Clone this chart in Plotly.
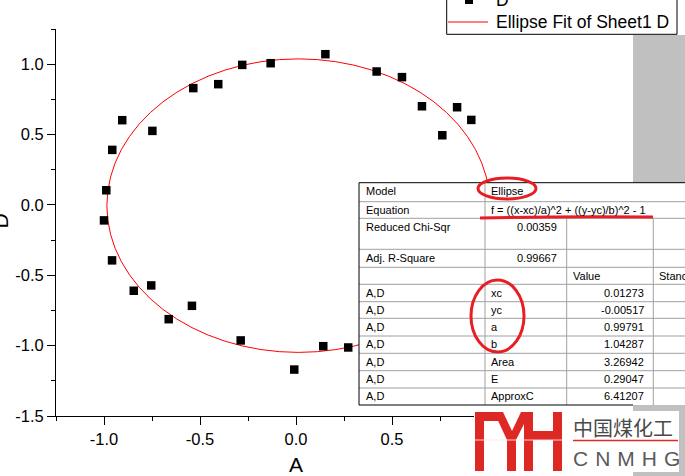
import plotly.graph_objects as go

# ---------------- data ----------------
x_vals = [0.153, -0.280, -0.132, -0.535, -0.405, 0.420, 0.552, 0.656, 0.839, 0.913,
          0.762, -0.905, -0.748, -0.957, -0.988, -1.000, -0.958, -0.754, -0.845, -0.542,
          -0.663, -0.288, 0.142, 0.272, -0.009]
y_vals = [1.071, 0.995, 1.007, 0.830, 0.858, 0.948, 0.908, 0.701, 0.694, 0.604,
          0.495, 0.602, 0.526, 0.391, 0.104, -0.110, -0.394, -0.572, -0.610, -0.717,
          -0.812, -0.963, -1.004, -1.013, -1.170]

# ellipse fit parameters (from the results table)
fit_xc = 0.01273
fit_yc = -0.00517
fit_a = 0.99791
fit_b = 1.04287

x_tickvals = [-1.0, -0.5, 0.0, 0.5, 1.0, 1.5]
x_ticktext = ["-1.0", "-0.5", "0.0", "0.5", "1.0", "1.5"]
y_tickvals = [-1.5, -1.0, -0.5, 0.0, 0.5, 1.0]
y_ticktext = ["-1.5", "-1.0", "-0.5", "0.0", "0.5", "1.0"]

table_col1 = ["Model", "Equation", "Reduced Chi-Sqr", "Adj. R-Square", "",
              "A,D", "A,D", "A,D", "A,D", "A,D", "A,D", "A,D"]
table_model = "Ellipse"
table_equation = "f = ((x-xc)/a)^2 + ((y-yc)/b)^2 - 1"
stat_values = ["0.00359", "0.99667"]
param_names = ["xc", "yc", "a", "b", "Area", "E", "ApproxC"]
param_values = ["0.01273", "-0.00517", "0.99791", "1.04287", "3.26942", "0.29047", "6.41207"]
header_value = "Value"
header_stderr = "Standard Error"

legend_names = ["D", "Ellipse Fit of Sheet1 D"]

# ---------------- layout helpers ----------------
W, H = 685, 476
ML, MR, MT, MB = 56, 53, 29, 60
PW, PH = W - ML - MR, H - MT - MB


def X(px):
    return (px - ML) / PW


def Y(py):
    return (H - MB - py) / PH


FONT = "Liberation Sans, Arial, sans-serif"
RED = "rgb(232,30,36)"

fig = go.Figure()
fig.add_trace(go.Scatter(
    x=x_vals, y=y_vals, mode="markers", name=legend_names[0],
    marker=dict(symbol="square", size=8.5, color="black", line=dict(width=0)),
    showlegend=False, cliponaxis=True, hoverinfo="skip"))

shapes = []
annotations = []

# fit ellipse drawn through the axes from the fitted parameters
shapes.append(dict(type="circle", xref="x", yref="y", layer="below",
                   x0=fit_xc - fit_a, x1=fit_xc + fit_a,
                   y0=fit_yc - fit_b, y1=fit_yc + fit_b,
                   line=dict(color="red", width=1)))

# gray page margin band at right
shapes.append(dict(type="rect", xref="paper", yref="paper", layer="above",
                   x0=X(633), x1=X(700), y0=Y(35), y1=Y(490),
                   fillcolor="#c0c0c0", line=dict(width=0)))


def hline(x0, x1, y, color, w=1):
    shapes.append(dict(type="line", xref="paper", yref="paper", layer="above",
                       x0=X(x0), x1=X(x1), y0=Y(y), y1=Y(y),
                       line=dict(color=color, width=w)))


def vline(x, y0, y1, color, w=1):
    shapes.append(dict(type="line", xref="paper", yref="paper", layer="above",
                       x0=X(x), x1=X(x), y0=Y(y0), y1=Y(y1),
                       line=dict(color=color, width=w)))


def rect(x0, y0, x1, y1, fill, lc=None, lw=0):
    shapes.append(dict(type="rect", xref="paper", yref="paper", layer="above",
                       x0=X(x0), x1=X(x1), y0=Y(y0), y1=Y(y1),
                       fillcolor=fill, line=dict(color=lc or fill, width=lw)))


def text(px, py, s, size=11, anchor="left", color="black", family=FONT, angle=0):
    annotations.append(dict(xref="paper", yref="paper", x=X(px), y=Y(py), text=s,
                            showarrow=False, xanchor=anchor, yanchor="middle",
                            textangle=angle, borderpad=0,
                            font=dict(family=family, size=size, color=color)))


# ---------------- results table ----------------
T_L, T_R = 359, 700
rows = [182.7, 201.7, 218.3, 249.3, 267.3, 284.3, 301.7, 318.3, 336, 353.3, 370.7, 388, 405]
C2, C3, C4 = 485, 566.7, 653.3
GRAY = "#a0a0a0"
rect(T_L, rows[0], T_R, rows[-1], "white")
for r in rows[1:-1]:
    hline(T_L, T_R, r, GRAY)
vline(C2, rows[0], rows[-1], GRAY)
vline(C3, rows[2], rows[-1], GRAY)
vline(C4, rows[2], rows[-1], GRAY)
hline(T_L, T_R, rows[0], "black")
hline(T_L, 633, rows[-1], "black")
vline(T_L, rows[0], rows[-1], "black")

for i, s in enumerate(table_col1):
    if s:
        text(365, rows[i] + 8.3, s)
text(490, rows[0] + 8.3, table_model)
text(490, rows[1] + 8.3, table_equation)
text(558, rows[2] + 8.3, stat_values[0], anchor="right")
text(558, rows[3] + 8.3, stat_values[1], anchor="right")
text(571.5, rows[4] + 8.3, header_value)
text(658, rows[4] + 8.3, header_stderr)
for i, (n, v) in enumerate(zip(param_names, param_values)):
    text(490, rows[5 + i] + 8.3, n)
    text(644.5, rows[5 + i] + 8.3, v, anchor="right")

# ---------------- legend (top, partly cut off) ----------------
rect(446.7, -6, 677, 34.3, "white", "black", 1)
rect(465, -4, 473, 4, "black")
hline(448, 488, 22, "red", 1)
text(495, 0, legend_names[0], size=17.5)
text(495, 22, legend_names[1], size=17.5)

# ---------------- logo ----------------
rect(474, 411, 679, 472, "white")
logo_paths = [
    # Γ
    [(475, 412), (502, 412), (502, 421), (484, 421), (484, 471), (475, 471)],
    # Y
    [(494, 412), (503, 412), (512, 431), (521, 412), (530, 412), (516, 440),
     (516, 471), (507, 471), (507, 440)],
    # H
    [(524, 412), (533, 412), (533, 431), (553, 431), (553, 412), (562, 412),
     (562, 471), (553, 471), (553, 440), (533, 440), (533, 471), (524, 471)],
]
for pts in logo_paths:
    path = "M " + " L ".join(f"{X(a):.5f},{Y(b):.5f}" for a, b in pts) + " Z"
    shapes.append(dict(type="path", xref="paper", yref="paper", layer="above",
                       path=path, fillcolor="rgb(222,40,36)", line=dict(width=0)))
hline(475, 562, 440, "rgba(255,230,230,0.9)", 1)
hline(573, 678, 440.5, "rgb(222,40,36)", 1.5)
text(572, 427, "中国煤化工", size=20, color="#4a4a4a",
     family="Noto Sans CJK SC, sans-serif")
text(572, 458, "C\u2004N\u2004M\u2004H\u2004G", size=21, color="#5a5a5a")

# ---------------- red hand-drawn marks ----------------
shapes.append(dict(type="circle", xref="paper", yref="paper", layer="above",
                   x0=X(478), x1=X(536), y0=Y(178), y1=Y(199),
                   line=dict(color=RED, width=3)))
shapes.append(dict(type="path", xref="paper", yref="paper", layer="above",
                   path=f"M {X(480)},{Y(218)} Q {X(566)},{Y(216)} {X(653)},{Y(217)}",
                   line=dict(color=RED, width=3)))
shapes.append(dict(type="circle", xref="paper", yref="paper", layer="above",
                   x0=X(471), x1=X(524), y0=Y(280), y1=Y(352),
                   line=dict(color=RED, width=3)))

# axis titles
text(296, 464, "A", size=21, anchor="center")
annotations.append(dict(xref="paper", yref="paper", x=X(0), y=Y(221.5), text="D",
                        showarrow=False, xanchor="center", yanchor="middle",
                        textangle=-90, font=dict(family=FONT, size=21, color="black")))

axis_common = dict(showgrid=False, zeroline=False, showline=True, linecolor="black",
                   linewidth=1, ticks="outside", ticklen=8, tickwidth=1, tickcolor="black",
                   tickfont=dict(family=FONT, size=16.5, color="black"),
                   tickmode="array")
fig.update_layout(
    width=W, height=H,
    margin=dict(l=ML, r=MR, t=MT, b=MB, autoexpand=False),
    paper_bgcolor="white", plot_bgcolor="white",
    showlegend=False,
    xaxis=dict(range=[-1.25, 1.75], tickvals=x_tickvals, ticktext=x_ticktext,
               minor=dict(ticks="outside", ticklen=4, dtick=0.25, tick0=0,
                          tickcolor="black"),
               **axis_common),
    yaxis=dict(range=[-1.5, 1.25], tickvals=y_tickvals, ticktext=y_ticktext,
               minor=dict(ticks="outside", ticklen=4, dtick=0.25, tick0=0,
                          tickcolor="black"),
               **axis_common),
    shapes=shapes, annotations=annotations,
)

fig.write_html("out.html", config={"displayModeBar": False, "staticPlot": True},
               post_script="document.body.style.margin='0';")
